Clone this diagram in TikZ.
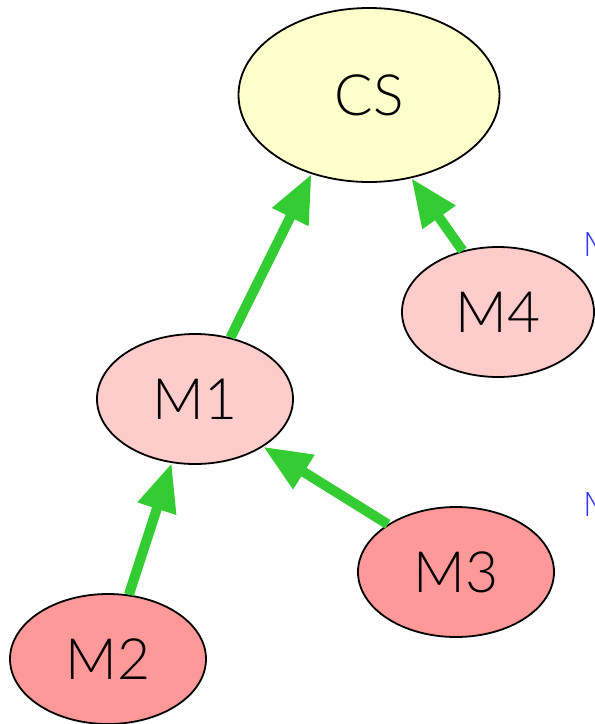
\documentclass[tikz,border=0pt]{standalone}
\usepackage{fontspec}
\setmainfont{Lato}[UprightFont=* Light]
\usetikzlibrary{shapes.geometric,arrows.meta}
\definecolor{csfill}{HTML}{FFFFCC}
\definecolor{lightred}{HTML}{FFCCCC}
\definecolor{midred}{HTML}{FF9999}
\definecolor{edgegreen}{HTML}{33CC33}
\definecolor{labelblue}{HTML}{3333FF}
\begin{document}
\begin{tikzpicture}[x=1pt,y=-1pt,
  ell/.style={ellipse,draw=black,line width=1.8pt,inner sep=0pt,font=\fontsize{57}{57}\selectfont},
  dep/.style={edgegreen,line width=10pt,-{Triangle[length=48pt,width=38pt]}},
  side/.style={anchor=west,text=labelblue,font=\fontsize{34}{34}\selectfont,inner sep=0pt}]
\useasboundingbox (0,0) rectangle (595,724);
\clip (0,0) rectangle (595,724);
\node[ell,fill=csfill,minimum width=261pt,minimum height=174pt] (CS) at (369,95) {CS};
\node[ell,fill=lightred,minimum width=192pt,minimum height=130pt] (M4) at (498,312) {M4};
\node[ell,fill=lightred,minimum width=196pt,minimum height=130pt] (M1) at (195,399) {M1};
\node[ell,fill=midred,minimum width=196pt,minimum height=130pt] (M3) at (456,572) {M3};
\node[ell,fill=midred,minimum width=196pt,minimum height=130pt] (M2) at (108,659) {M2};
\draw[dep] (M1.60) -- (CS.234);
\draw[dep] (M4.120) -- (CS.297);
\draw[dep] (M2.72) -- (M1.250);
\draw[dep] (M3.145) -- (M1.325);
\node[side] (t1) at (583,244) {M};
\node[side] (t2) at (583,504) {M};
\end{tikzpicture}
\end{document}
